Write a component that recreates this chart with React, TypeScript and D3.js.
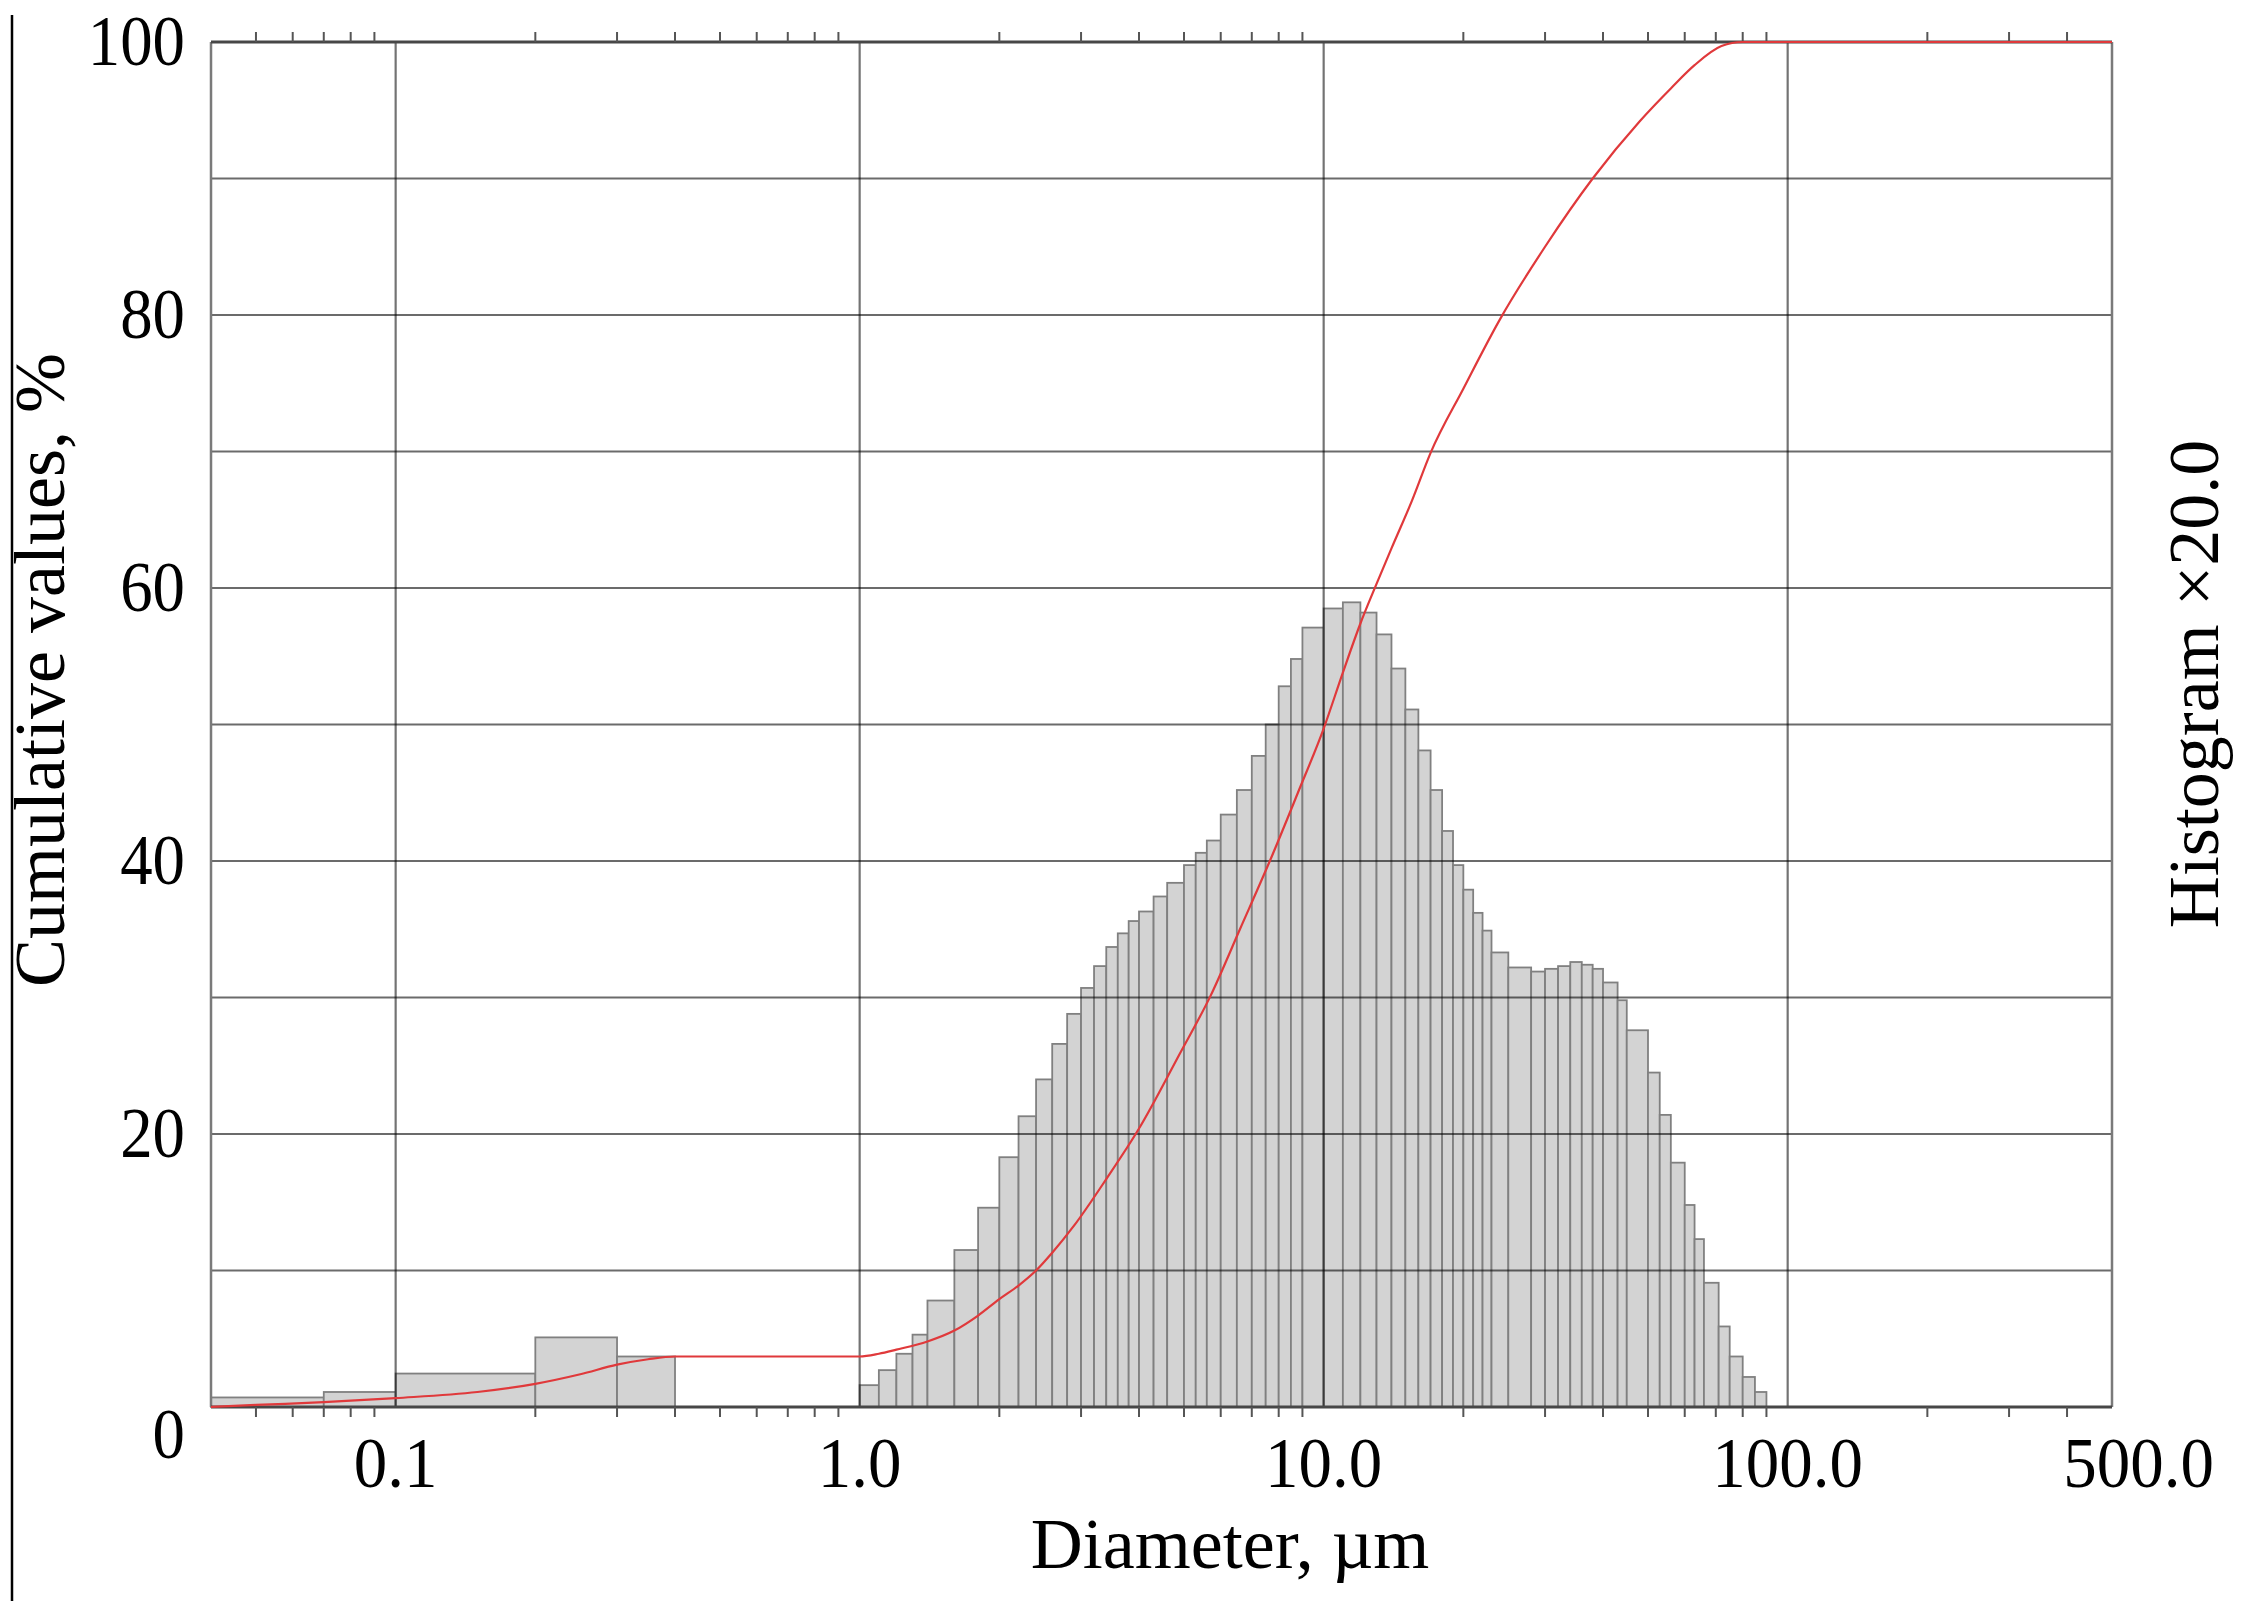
import React, { useEffect } from 'react';
import * as d3 from 'd3';

// histogram bins (µm) — fine fraction, then main population
const lowEdges = [0.04, 0.07, 0.1, 0.2, 0.3, 0.4];
const lowHist = [0.7, 1.1, 2.45, 5.1, 3.7];

const mainEdges = [
  1.0, 1.1, 1.2, 1.3, 1.4, 1.6, 1.8, 2.0, 2.2, 2.4, 2.6, 2.8, 3.0, 3.2, 3.4, 3.6, 3.8, 4.0,
  4.3, 4.6, 5.0, 5.3, 5.6, 6.0, 6.5, 7.0, 7.5, 8.0, 8.5, 9.0, 10, 11, 12, 13, 14, 15, 16, 17,
  18, 19, 20, 21, 22, 23, 25, 28, 30, 32, 34, 36, 38, 40, 43, 45, 50, 53, 56, 60, 63, 66, 71,
  75, 80, 85, 90,
];
// heights as drawn (histogram x20)
const mainHist = [
  1.6, 2.7, 3.9, 5.3, 7.8, 11.5, 14.6, 18.3, 21.3, 24.0, 26.6, 28.8, 30.7, 32.3, 33.7, 34.7,
  35.6, 36.3, 37.4, 38.4, 39.7, 40.6, 41.5, 43.4, 45.2, 47.7, 50.0, 52.8, 54.8, 57.1, 58.5,
  58.95, 58.2, 56.6, 54.1, 51.1, 48.1, 45.2, 42.2, 39.7, 37.9, 36.2, 34.9, 33.3, 32.2, 31.9,
  32.1, 32.3, 32.6, 32.4, 32.1, 31.1, 29.8, 27.6, 24.5, 21.4, 17.9, 14.8, 12.3, 9.1, 5.9, 3.7,
  2.2, 1.1,
];

// cumulative curve
const cumD = [
  0.04, 0.05, 0.07, 0.1, 0.15, 0.2, 0.25, 0.3, 0.35, 0.4, 1.0, 1.1, 1.2, 1.4, 1.6, 1.8, 2.0,
  2.2, 2.4, 2.6, 2.9, 3.4, 4.0, 4.9, 5.7, 6.6, 7.7, 8.8, 10, 11, 12, 13, 14, 15.5, 17, 20, 24,
  30, 38, 48, 56, 63, 72, 80, 90, 500,
];
const cumV = [
  0, 0.15, 0.35, 0.65, 1.1, 1.7, 2.4, 3.1, 3.5, 3.7, 3.7, 3.9, 4.2, 4.8, 5.6, 6.7, 7.9, 8.9,
  10.0, 11.3, 13.3, 16.7, 20.4, 25.9, 30.1, 35.0, 40.2, 45.0, 49.7, 53.8, 57.4, 60.3, 62.9,
  66.4, 69.9, 74.6, 79.7, 85.0, 90.0, 94.2, 96.6, 98.3, 99.7, 100, 100, 100,
];

const xTicks = [0.1, 1, 10, 100, 500];
const xTickLabels = ['0.1', '1.0', '10.0', '100.0', '500.0'];
const yTicks = [0, 20, 40, 60, 80, 100];

const W = 2253;
const H = 1601;
const FONT = '"Liberation Serif", "Times New Roman", serif';

const App = () => {
  useEffect(() => {
    document.body.style.margin = '0';
  }, []);

  const x = d3.scaleLog().domain([0.04, 500]).range([211, 2112]);
  const y = d3.scaleLinear().domain([0, 100]).range([1407, 42]);

  const bins = [];
  lowHist.forEach((h, i) => bins.push({ a: lowEdges[i], b: lowEdges[i + 1], h }));
  mainHist.forEach((h, i) => bins.push({ a: mainEdges[i], b: mainEdges[i + 1], h }));

  const minor = [];
  for (let e = -2; e <= 2; e++) {
    for (let m = 2; m <= 9; m++) {
      const v = m * Math.pow(10, e);
      if (v > 0.04 && v < 500) minor.push(v);
    }
  }

  const line = d3.line()
    .x((d) => x(d[0]))
    .y((d) => y(d[1]))
    .curve(d3.curveMonotoneX);
  const pts = cumD.map((d, i) => [d, cumV[i]]);

  const [x0, x1] = x.range();
  const [yb, yt] = y.range();

  return (
    <svg width={W} height={H} style={{ position: 'absolute', left: 0, top: 0, background: '#fff' }}>
      <line x1={12} x2={12} y1={15} y2={H} stroke="#000" strokeWidth={2.5} />

      {bins.filter((d) => d.h > 0).map((d, i) => (
        <rect key={i} x={x(d.a)} y={y(d.h)} width={x(d.b) - x(d.a)} height={yb - y(d.h)}
          fill="#d3d3d3" stroke="#808080" strokeWidth={1.8} />
      ))}

      {d3.range(10, 100, 10).map((v) => (
        <line key={'h' + v} x1={x0} x2={x1} y1={y(v)} y2={y(v)} stroke="#000" strokeOpacity={0.58} strokeWidth={2.2} />
      ))}
      {[0.1, 1, 10, 100].map((v) => (
        <line key={'v' + v} x1={x(v)} x2={x(v)} y1={yt} y2={yb} stroke="#000" strokeOpacity={0.55} strokeWidth={2.2} />
      ))}

      <line x1={x0} x2={x0} y1={yt} y2={yb} stroke="#7a7a7a" strokeWidth={2.5} />
      <line x1={x1} x2={x1} y1={yt} y2={yb} stroke="#7a7a7a" strokeWidth={2.5} />
      <line x1={x0} x2={x1} y1={yt} y2={yt} stroke="#474747" strokeWidth={3} />
      <line x1={x0} x2={x1} y1={yb} y2={yb} stroke="#474747" strokeWidth={3} />

      {minor.map((v) => (
        <g key={'t' + v}>
          <line x1={x(v)} x2={x(v)} y1={yt - 10} y2={yt} stroke="#555" strokeWidth={2} />
          <line x1={x(v)} x2={x(v)} y1={yb} y2={yb + 10} stroke="#555" strokeWidth={2} />
        </g>
      ))}

      <path d={line(pts)} fill="none" stroke="#e0393b" strokeWidth={2.2} />

      <g fontFamily={FONT} fill="#000">
        {yTicks.map((v) => (
          <g key={'yl' + v} transform={`translate(185,${v === 0 ? 1458 : y(v) + 23}) scale(0.9,1)`}>
            <text textAnchor="end" fontSize={72}>{v}</text>
          </g>
        ))}
        {xTicks.map((v, i) => (
          <g key={'xl' + v}
            transform={`translate(${i === xTicks.length - 1 ? 2214 : x(v)},1487) scale(0.93,1)`}>
            <text textAnchor={i === xTicks.length - 1 ? 'end' : 'middle'} fontSize={72}>{xTickLabels[i]}</text>
          </g>
        ))}
        <text x={1230} y={1568} textAnchor="middle" fontSize={72}>Diameter, µm</text>
        <text transform="translate(64,670) rotate(-90)" textAnchor="middle" fontSize={72}>Cumulative values, %</text>
        <text transform="translate(2218,684) rotate(-90)" textAnchor="middle" fontSize={72}>Histogram ×20.0</text>
      </g>
    </svg>
  );
};

export default App;
